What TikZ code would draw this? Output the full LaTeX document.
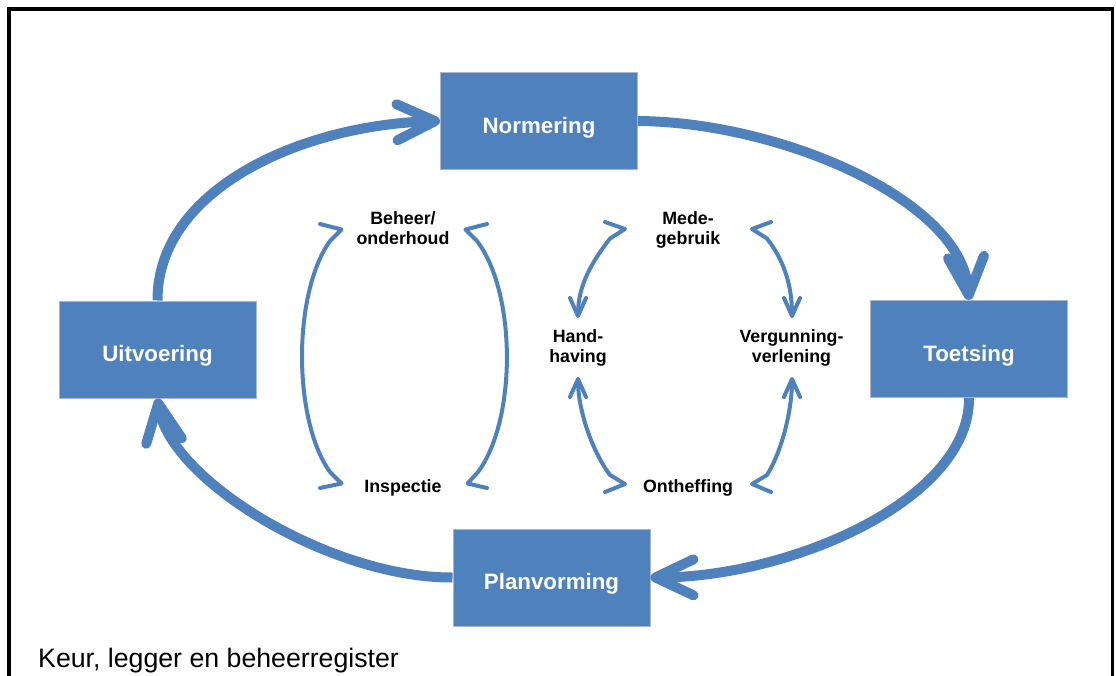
\documentclass[tikz,border=0pt]{standalone}
\usepackage{fontspec}
\setmainfont{Liberation Sans}
\usetikzlibrary{arrows.meta}
\definecolor{ofblue}{HTML}{4F81BD}
\definecolor{ofedge}{HTML}{A9B8CE}
\begin{document}
\begin{tikzpicture}[x=1pt,y=-1pt,
  box/.style={rectangle, fill=ofblue, draw=ofedge, line width=1pt, minimum width=197pt, minimum height=97pt, inner sep=0pt, text=white, text height=26pt, text depth=2pt, font=\fontsize{22.3}{25}\selectfont\bfseries},
  lbl/.style={align=center, inner sep=0pt, font=\fontsize{17.8}{20}\selectfont\bfseries},
  bigtip/.tip={Straight Barb[length=38pt, width=36pt, round]},
  smalltip/.tip={Straight Barb[length=18pt, width=16pt, round]},
  big/.style={draw=ofblue, line width=10pt, -{bigtip}},
  inarr/.style={draw=ofblue, line width=4pt, line cap=round, line join=round}
]
\useasboundingbox (0,0) rectangle (1116,675);
\clip (0,0) rectangle (1116,675);
\draw[line width=3.5pt] (9.2,9.2) rectangle (1112.7,720);

% boxes
\node[box] (norm) at (539,121) {Normering};
\node[box] (toets) at (969,349) {Toetsing};
\node[box] (uit) at (157.5,349.5) {Uitvoering};
\node[box] (plan) at (551.5,577.5) {Planvorming};

% big cycle arrows
\draw[big] (uit.north) .. controls (157,190) and (300,125) .. (norm.west);
\draw[big] (norm.east) .. controls (780,122) and (962,200) .. (toets.north);
\draw[big] (toets.south) .. controls (970,500) and (790,577) .. (plan.east);
\draw[big] (plan.west) .. controls (330,578) and (170,480) .. (uit.south);

% inner labels
\node[lbl] (beheer) at (403,228.6) {Beheer/\\onderhoud};
\node[lbl, anchor=base] (insp) at (403,492) {Inspectie};
\node[lbl] (mede) at (688,230.3) {Mede-\\gebruik};
\node[lbl] (hand) at (578,348) {Hand-\\having};
\node[lbl] (verg) at (791.5,348) {Vergunning-\\verlening};
\node[lbl, anchor=base] (onth) at (688,492) {Ontheffing};

% left pair of inner arcs
\coordinate (lA1) at (320,224);   \coordinate (lT1) at (341.5,229.5); \coordinate (lK1) at (330,241);
\coordinate (lK2) at (330,472);   \coordinate (lT2) at (341.5,483.5); \coordinate (lA2) at (320,488);
\draw[inarr] (lA1) -- (lT1) -- (lK1) .. controls (292.7,293) and (292.7,420) .. (lK2) -- (lT2) -- (lA2);

\coordinate (rA1) at (487,224);   \coordinate (rT1) at (465.5,229.5); \coordinate (rK1) at (477,241);
\coordinate (rK2) at (478,472);   \coordinate (rT2) at (467.5,483.5); \coordinate (rA2) at (487,488);
\draw[inarr] (rA1) -- (rT1) -- (rK1) .. controls (516.7,293) and (516.7,420) .. (rK2) -- (rT2) -- (rA2);

% right group of inner arrows
\coordinate (mA1) at (605,222);  \coordinate (mT1) at (625,229);  \coordinate (mK1) at (610,238.5);
\coordinate (hTop) at (578,318); \coordinate (hBot) at (578,377);
\coordinate (oK1) at (610,475);  \coordinate (oT1) at (625,484);  \coordinate (oA1) at (605,492);
\draw[inarr, -{smalltip}] (mA1) -- (mT1) -- (mK1) .. controls (592,262) and (578,285) .. (hTop);
\draw[inarr, {smalltip}-] (hBot) .. controls (578,410) and (592,451) .. (oK1) -- (oT1) -- (oA1);

\coordinate (mA2) at (771,222);  \coordinate (mT2) at (752,229);  \coordinate (mK2) at (767,238.5);
\coordinate (vTop) at (792,318); \coordinate (vBot) at (792,377);
\coordinate (oK2) at (767,475);  \coordinate (oT2) at (752,484);  \coordinate (oA2) at (771,492);
\draw[inarr, -{smalltip}] (mA2) -- (mT2) -- (mK2) .. controls (782,258) and (792,282) .. (vTop);
\draw[inarr, {smalltip}-] (vBot) .. controls (792,410) and (782,451) .. (oK2) -- (oT2) -- (oA2);

% caption
\node[anchor=base west, inner sep=0pt, font=\fontsize{26.7}{30}\selectfont] (cap) at (38,667) {Keur, legger en beheerregister};
\end{tikzpicture}
\end{document}
